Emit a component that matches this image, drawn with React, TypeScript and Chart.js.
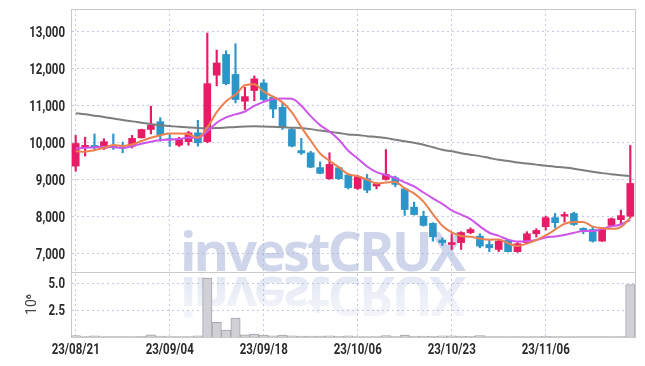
import React, { useEffect, useRef } from 'react';
import { Chart, registerables } from 'chart.js';

Chart.register(...registerables);

const DATES = [
  '23/08/21', '23/08/22', '23/08/23', '23/08/24', '23/08/25', '23/08/28', '23/08/29', '23/08/30', '23/08/31', '23/09/01',
  '23/09/04', '23/09/05', '23/09/06', '23/09/07', '23/09/08', '23/09/11', '23/09/12', '23/09/13', '23/09/14', '23/09/15',
  '23/09/18', '23/09/19', '23/09/20', '23/09/21', '23/09/22', '23/09/25', '23/09/26', '23/09/27', '23/10/04', '23/10/05',
  '23/10/06', '23/10/10', '23/10/11', '23/10/12', '23/10/13', '23/10/16', '23/10/17', '23/10/18', '23/10/19', '23/10/20',
  '23/10/23', '23/10/24', '23/10/25', '23/10/26', '23/10/27', '23/10/30', '23/10/31', '23/11/01', '23/11/02', '23/11/03',
  '23/11/06', '23/11/07', '23/11/08', '23/11/09', '23/11/10', '23/11/13', '23/11/14', '23/11/15', '23/11/16', '23/11/17',
];

const OPEN = [
  9370, 9870, 9930, 9850, 9910, 9890, 9910, 10135, 10360, 10570,
  10110, 9935, 10030, 10270, 10030, 11830, 12390, 11850, 11125, 11415,
  11620, 11230, 10960, 10360, 9790, 9730, 9330, 9030, 9325, 9130,
  8765, 9030, 8830, 9010, 9055, 8755, 8260, 8015, 7820, 7370,
  7250, 7300, 7570, 7475, 7250, 7115, 7360, 7055, 7300, 7540,
  7730, 7975, 8015, 8090, 7685, 7655, 7340, 7765, 7920, 8015,
];
const HIGH = [
  10200, 10150, 10240, 10110, 10240, 10020, 10200, 10370, 10990, 10680,
  10220, 10150, 10310, 10610, 12970, 12510, 12490, 12680, 11500, 11810,
  11710, 11260, 11080, 10390, 10120, 9770, 9485, 9730, 9345, 9160,
  9115, 9145, 8920, 9820, 9100, 8785, 8395, 8150, 7840, 7430,
  7540, 7595, 7700, 7540, 7360, 7385, 7385, 7300, 7595, 7675,
  8015, 8090, 8125, 8125, 7700, 7745, 7660, 7970, 8180, 9930,
];
const LOW = [
  9230, 9640, 9820, 9820, 9820, 9730, 9860, 10130, 10240, 10040,
  9900, 9900, 9935, 9910, 10000, 11540, 11570, 11080, 10900, 11140,
  11120, 10680, 10360, 9890, 9685, 9325, 9160, 9010, 9010, 8750,
  8740, 8650, 8755, 8990, 8810, 8035, 8045, 7745, 7340, 7225,
  7115, 7115, 7540, 7160, 7055, 7055, 7050, 7035, 7270, 7450,
  7640, 7700, 7855, 7765, 7540, 7315, 7335, 7740, 7790, 7970,
];
const CLOSE = [
  9980, 9930, 9880, 10030, 9880, 9850, 10120, 10360, 10480, 10220,
  10080, 10115, 10270, 10000, 11600, 12160, 11600, 11170, 11250, 11730,
  11170, 10915, 10405, 9910, 9725, 9340, 9175, 9415, 9030, 8785,
  9080, 8720, 8890, 9145, 8875, 8195, 8060, 7765, 7460, 7300,
  7300, 7570, 7655, 7205, 7160, 7340, 7055, 7270, 7540, 7630,
  7975, 7840, 8060, 7790, 7630, 7340, 7655, 7945, 8030, 8900,
];

// moving-average lines
const MA_SHORT = [
  9770, 9760, 9800, 9865, 9940, 9914, 9952, 10048, 10138, 10206,
  10252, 10251, 10233, 10137, 10413, 10829, 11126, 11306, 11556, 11582,
  11384, 11247, 11094, 10826, 10425, 10059, 9711, 9513, 9337, 9149,
  9097, 9006, 8901, 8924, 8942, 8765, 8633, 8408, 8071, 7756,
  7577, 7479, 7457, 7406, 7378, 7386, 7283, 7206, 7273, 7367,
  7494, 7651, 7809, 7859, 7859, 7732, 7695, 7673, 7720, 7974,
];
const MA_MID = [
  9846, 9865, 9881, 9892, 9881, 9865, 9908, 9973, 10027, 10073,
  10083, 10102, 10141, 10138, 10310, 10541, 10689, 10770, 10847, 10998,
  11107, 11187, 11200, 11191, 11004, 10722, 10479, 10304, 10082, 9787,
  9578, 9359, 9207, 9131, 9046, 8931, 8820, 8655, 8498, 8349,
  8171, 8056, 7933, 7739, 7567, 7482, 7381, 7332, 7340, 7373,
  7440, 7467, 7508, 7566, 7613, 7613, 7673, 7741, 7790, 7917,
];
const MA_LONG = [
  10800, 10770, 10735, 10700, 10660, 10620, 10580, 10545, 10510, 10475,
  10455, 10432, 10415, 10400, 10395, 10400, 10415, 10430, 10440, 10445,
  10440, 10432, 10425, 10410, 10400, 10370, 10330, 10300, 10265, 10225,
  10210, 10180, 10160, 10130, 10085, 10045, 10000, 9950, 9880, 9810,
  9770, 9720, 9680, 9640, 9590, 9540, 9510, 9470, 9440, 9410,
  9380, 9355, 9330, 9300, 9260, 9220, 9180, 9150, 9120, 9100,
];

// volume in millions of shares
const VOLUME = [
  0.12, 0.05, 0.1, 0.05, 0.04, 0.04, 0.05, 0.06, 0.2, 0.08,
  0.05, 0.04, 0.05, 0.1, 5.45, 1.35, 0.65, 1.75, 0.2, 0.28,
  0.18, 0.1, 0.18, 0.1, 0.08, 0.08, 0.08, 0.1, 0.06, 0.1,
  0.05, 0.05, 0.04, 0.12, 0.05, 0.18, 0.06, 0.08, 0.07, 0.1,
  0.1, 0.08, 0.06, 0.12, 0.05, 0.05, 0.04, 0.05, 0.05, 0.05,
  0.07, 0.04, 0.03, 0.05, 0.03, 0.05, 0.04, 0.04, 0.04, 4.85,
];

const PRICE_TICKS = [7000, 8000, 9000, 10000, 11000, 12000, 13000];
const VOLUME_TICKS = [2.5, 5.0];
const X_TICK_EVERY = 10;

const UP = 'rgb(232,28,102)';
const DOWN = 'rgb(44,150,200)';
const GRID = 'rgb(196,200,224)';
const FRAME = '#c9c9c9';
const LABEL_COLOR = '#2a2a2a';
const LABEL_FONT = 'bold 14px Roboto, "Noto Sans", sans-serif';
const LABEL_SQUEEZE = 0.82;
const HIDDEN = 'rgba(0,0,0,0)';

function drawSqueezed(ctx: CanvasRenderingContext2D, text: string, x: number, y: number, align: CanvasTextAlign) {
  ctx.save();
  ctx.translate(x, y);
  ctx.scale(LABEL_SQUEEZE, 1);
  ctx.textAlign = align;
  ctx.textBaseline = 'alphabetic';
  ctx.fillText(text, 0, 0);
  ctx.restore();
}

const framePlugin = {
  id: 'framePlugin',
  beforeDatasetsDraw(chart: any) {
    const { ctx } = chart;
    const base = chart.scales.y.bottom;
    ctx.save();
    ctx.font = 'bold 54px "Open Sans", "Liberation Sans", sans-serif';
    (ctx as any).letterSpacing = '-3px';
    const text = 'investCRUX';
    const w = ctx.measureText(text).width;
    const sx = 283 / w;
    ctx.textBaseline = 'alphabetic';
    ctx.translate(180, base);
    ctx.scale(sx, 1);
    ctx.fillStyle = 'rgba(160,174,216,0.5)';
    ctx.fillText(text, 0, -1);
    ctx.scale(1, -1);
    const g = ctx.createLinearGradient(0, 0, 0, -44);
    g.addColorStop(0, 'rgba(160,174,216,0.3)');
    g.addColorStop(1, 'rgba(160,174,216,0.12)');
    ctx.fillStyle = g;
    ctx.fillText(text, 0, -5);
    ctx.restore();
  },
  afterDraw(chart: any) {
    const { ctx, chartArea } = chart;
    const sY = chart.scales.y;
    const sV = chart.scales.yv;
    const sX = chart.scales.x;
    const sep = sY.bottom;
    ctx.save();
    ctx.strokeStyle = FRAME;
    ctx.lineWidth = 1;
    ctx.beginPath();
    ctx.moveTo(chartArea.left, chartArea.top + 0.5);
    ctx.lineTo(chartArea.right + 0.5, chartArea.top + 0.5);
    ctx.lineTo(chartArea.right + 0.5, chartArea.bottom);
    ctx.moveTo(chartArea.left, Math.round(sep) + 0.5);
    ctx.lineTo(chartArea.right, Math.round(sep) + 0.5);
    ctx.stroke();

    ctx.fillStyle = LABEL_COLOR;
    ctx.font = LABEL_FONT;
    const right = chartArea.left - 6;
    PRICE_TICKS.forEach((v) => {
      drawSqueezed(ctx, v.toLocaleString('en-US'), right, sY.getPixelForValue(v) + 5, 'right');
    });
    VOLUME_TICKS.forEach((v) => {
      drawSqueezed(ctx, v.toFixed(1), right, sV.getPixelForValue(v) + 5, 'right');
    });
    DATES.forEach((d, i) => {
      if (i % X_TICK_EVERY !== 0) return;
      drawSqueezed(ctx, d, sX.getPixelForValue(i), chartArea.bottom + 17, 'center');
    });
    ctx.restore();
  },
};

export default function App() {
  const ref = useRef<HTMLCanvasElement | null>(null);

  useEffect(() => {
    if (!ref.current) return;
    const bodies = OPEN.map((o, i) => [o, CLOSE[i]]);
    const wicks = LOW.map((l, i) => [l, HIGH[i]]);
    const colors = OPEN.map((o, i) => (CLOSE[i] >= o ? UP : DOWN));

    const chart = new Chart(ref.current, {
      type: 'bar',
      data: {
        labels: DATES,
        datasets: [
          {
            type: 'line', label: 'MA5', data: MA_SHORT, yAxisID: 'y', order: 0,
            borderColor: 'rgb(236,128,78)', borderWidth: 2, pointRadius: 0, cubicInterpolationMode: 'monotone',
          } as any,
          {
            type: 'line', label: 'MA10', data: MA_MID, yAxisID: 'y', order: 0,
            borderColor: 'rgb(206,84,236)', borderWidth: 2, pointRadius: 0, cubicInterpolationMode: 'monotone',
          } as any,
          {
            type: 'line', label: 'MA', data: MA_LONG, yAxisID: 'y', order: 0,
            borderColor: 'rgb(125,125,125)', borderWidth: 2, pointRadius: 0, cubicInterpolationMode: 'monotone',
          } as any,
          {
            type: 'bar', label: 'body', data: bodies as any, yAxisID: 'y', order: 1, grouped: false,
            backgroundColor: colors, borderWidth: 0, barThickness: 7,
          } as any,
          {
            type: 'bar', label: 'wick', data: wicks as any, yAxisID: 'y', order: 2, grouped: false,
            backgroundColor: colors, borderWidth: 0, barThickness: 1.5,
          } as any,
          {
            type: 'bar', label: 'volume', data: VOLUME, yAxisID: 'yv', order: 3, grouped: false,
            backgroundColor: 'rgba(208,208,214,1)', borderColor: 'rgba(165,165,172,1)', borderWidth: 1,
            barPercentage: 1, categoryPercentage: 1,
          } as any,
        ],
      },
      options: {
        responsive: false,
        animation: false,
        devicePixelRatio: 1,
        layout: { padding: { left: 0, top: 9, right: 10, bottom: 0 } },
        plugins: { legend: { display: false }, tooltip: { enabled: false } },
        scales: {
          x: {
            type: 'category',
            offset: true,
            grid: { offset: false, color: GRID, lineWidth: 1, drawTicks: false },
            border: { display: true, color: FRAME, dash: [2, 3] },
            ticks: { autoSkip: false, maxRotation: 0, padding: 6, color: HIDDEN },
            afterBuildTicks: (s: any) => { s.ticks = s.ticks.filter((t: any) => t.value % X_TICK_EVERY === 0); },
            afterFit: (s: any) => { s.height = 29; s.paddingLeft = 0; s.paddingRight = 0; },
          },
          yv: {
            type: 'linear',
            position: 'left',
            stack: 'panes',
            stackWeight: 65,
            min: 0,
            max: 6.02,
            grid: { color: GRID, lineWidth: 1, drawTicks: false },
            border: { display: true, color: FRAME, dash: [2, 3] },
            title: {
              display: true, text: '10\u2076', color: '#444',
              font: { family: 'Roboto, "Noto Sans", sans-serif', size: 14 },
              padding: { top: 24, bottom: 0 },
            },
            ticks: { padding: 6, color: HIDDEN },
            afterBuildTicks: (s: any) => { s.ticks = VOLUME_TICKS.map((v) => ({ value: v })); },
            afterFit: (s: any) => { s.width = 71; s.paddingTop = 0; s.paddingBottom = 0; },
          },
          y: {
            type: 'linear',
            position: 'left',
            stack: 'panes',
            stackWeight: 263,
            min: 6505,
            max: 13620,
            grid: { color: GRID, lineWidth: 1, drawTicks: false },
            border: { display: true, color: FRAME, dash: [2, 3] },
            ticks: { padding: 6, color: HIDDEN },
            afterBuildTicks: (s: any) => { s.ticks = PRICE_TICKS.map((v) => ({ value: v })); },
            afterFit: (s: any) => { s.width = 71; s.paddingTop = 0; s.paddingBottom = 0; },
          },
        },
      } as any,
      plugins: [framePlugin],
    });
    return () => chart.destroy();
  }, []);

  return (
    <div style={{ position: 'fixed', left: 0, top: 0, width: 645, height: 366, background: '#fff' }}>
      <canvas ref={ref} width={645} height={366} style={{ display: 'block', width: 645, height: 366 }} />
    </div>
  );
}
